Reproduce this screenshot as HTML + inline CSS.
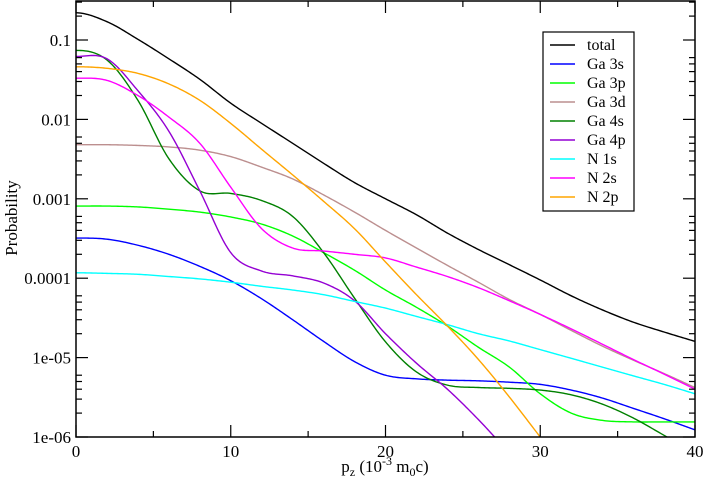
<!DOCTYPE html>
<html><head><meta charset="utf-8"><style>
html,body{margin:0;padding:0;background:#fff;overflow:hidden;width:706px;height:489px}
svg{display:block;font-family:"Liberation Serif",serif}
</style></head><body>
<svg id="chart" width="706" height="489" viewBox="0 0 706 489" xmlns="http://www.w3.org/2000/svg" style="overflow:hidden"></svg>
<script>
const xs=[0,2,4,6,8,10,12,14,16,18,20,22,24,26,28,30,32,34,36,38,40];
const seriesNames=["total","Ga 3s","Ga 3p","Ga 3d","Ga 4s","Ga 4p","N 1s","N 2s","N 2p"];
const seriesColors=["#000000","#0000ff","#00ff00","#bc8f8f","#008000","#9400d3","#00ffff","#ff00ff","#ffa500"];
const total=[0.22,0.17,0.102,0.058,0.032,0.016,0.0089,0.005,0.0028,0.0016,0.001,6.3e-4,3.7e-4,2.3e-4,1.48e-4,9.5e-5,6.0e-5,4.0e-5,2.8e-5,2.1e-5,1.6e-5];
const ga3s=[3.2e-4,3.1e-4,2.6e-4,2.0e-4,1.41e-4,9.3e-5,5.5e-5,3.0e-5,1.6e-5,8.9e-6,6.0e-6,5.4e-6,5.2e-6,5.1e-6,4.9e-6,4.6e-6,3.9e-6,3.1e-6,2.3e-6,1.7e-6,1.23e-6];
const ga3p=[8.1e-4,8.1e-4,7.9e-4,7.4e-4,6.8e-4,5.9e-4,4.8e-4,3.4e-4,2.1e-4,1.26e-4,7.1e-5,4.3e-5,2.5e-5,1.35e-5,7.6e-6,3.5e-6,2.0e-6,1.62e-6,1.55e-6,1.55e-6,1.55e-6];
const ga3d=[4.8e-3,4.8e-3,4.7e-3,4.5e-3,4.1e-3,3.4e-3,2.5e-3,1.78e-3,1.12e-3,6.8e-4,4.0e-4,2.4e-4,1.45e-4,8.9e-5,5.4e-5,3.5e-5,2.2e-5,1.4e-5,9.3e-6,6.3e-6,4.2e-6];
const ga4s=[0.074,0.056,0.0174,0.0032,1.26e-3,1.17e-3,9.5e-4,6.0e-4,2.1e-4,5.6e-5,1.58e-5,6.6e-6,4.5e-6,4.2e-6,4.1e-6,3.9e-6,3.4e-6,2.6e-6,1.74e-6,1.05e-6,6.3e-7];
const ga4p=[0.062,0.058,0.023,7.1e-3,1.26e-3,2.1e-4,1.23e-4,1.07e-4,8.7e-5,5.2e-5,2.0e-5,8.5e-6,4.0e-6,1.66e-6,6.3e-7,2.5e-7,1e-7,4e-8,1.6e-8,6e-9,2.5e-9];
const n1s=[1.17e-4,1.15e-4,1.12e-4,1.05e-4,9.8e-5,8.9e-5,7.9e-5,7.1e-5,6.2e-5,5.1e-5,4.2e-5,3.3e-5,2.6e-5,2.0e-5,1.62e-5,1.26e-5,9.8e-6,7.6e-6,5.9e-6,4.6e-6,3.5e-6];
const n2s=[0.033,0.031,0.020,0.0107,0.0050,0.0014,4.2e-4,2.4e-4,2.2e-4,2.0e-4,1.8e-4,1.38e-4,1.05e-4,7.6e-5,5.2e-5,3.5e-5,2.3e-5,1.48e-5,9.5e-6,6.2e-6,4.0e-6];
const n2p=[0.046,0.044,0.038,0.028,0.0174,0.0089,0.0042,0.002,9.3e-4,4.2e-4,1.6e-4,6.2e-5,2.5e-5,9.5e-6,3.2e-6,1e-6,3.2e-7,1e-7,3e-8,1e-8,3e-9];
const xTicks=[0,10,20,30,40];
const yTicks=[0.1,0.01,0.001,0.0001,1e-5,1e-6];
const yTickLabels=["0.1","0.01","0.001","0.0001","1e-05","1e-06"];

const NS="http://www.w3.org/2000/svg";
const svg=document.getElementById('chart');
const L=76,R=695,T=1,B=437;
function sx(v){return L+(v-0)/(40-0)*(R-L);}
function sy(v){return B-(Math.log10(v)+6)*79.4;}
function mk(tag,attrs,parent){const e=document.createElementNS(NS,tag);for(const k in attrs)e.setAttribute(k,attrs[k]);(parent||svg).appendChild(e);return e;}

const defs=mk('defs',{});
const cp=mk('clipPath',{id:'clip'},defs);
mk('rect',{x:L,y:T,width:R-L,height:B-T},cp);

const plot=mk('g',{'clip-path':'url(#clip)'});


const allSeries=[total,ga3s,ga3p,ga3d,ga4s,ga4p,n1s,n2s,n2p];

// Catmull-Rom (cubic Hermite) spline in log space
function splinePath(xv,vals){
  const y=vals.map(v=>Math.log10(v));
  const n=xv.length,m=[];
  m[0]=(y[1]-y[0])/(xv[1]-xv[0]);
  m[n-1]=(y[n-1]-y[n-2])/(xv[n-1]-xv[n-2]);
  for(let i=1;i<n-1;i++)m[i]=(y[i+1]-y[i-1])/(xv[i+1]-xv[i-1]);
  m[0]=0;
  let path='';
  for(let i=0;i<n-1;i++){
    const h=xv[i+1]-xv[i];
    for(let s=0;s<=20;s++){
      if(i>0&&s===0)continue;
      const t=s/20,t2=t*t,t3=t2*t;
      const v=(2*t3-3*t2+1)*y[i]+(t3-2*t2+t)*h*m[i]+(-2*t3+3*t2)*y[i+1]+(t3-t2)*h*m[i+1];
      const px=sx(xv[i]+t*h),py=B-(v+6)*79.4;
      path+=(path?'L':'M')+px.toFixed(2)+','+py.toFixed(2);
    }
  }
  return path;
}
allSeries.forEach((s,i)=>{
  const p=mk('path',{d:splinePath(xs,s),fill:'none',stroke:seriesColors[i],'stroke-width':1.4,'stroke-linejoin':'round'},plot);
  
  
});

const frame=mk('rect',{x:L,y:T,width:R-L,height:B-T,fill:'none',stroke:'#000','stroke-width':1.5});



const xAxis=mk('g',{});


for(let v=0;v<=40;v+=5){
  const len=(v%10===0)?12:6;
  mk('line',{x1:sx(v),x2:sx(v),y1:B,y2:B-len,stroke:'#000','stroke-width':1.2},xAxis);
  mk('line',{x1:sx(v),x2:sx(v),y1:T,y2:T+len,stroke:'#000','stroke-width':1.2},xAxis);
}
xTicks.forEach(v=>{
  const t=mk('text',{x:sx(v),y:B+20,'text-anchor':'middle','font-size':17},xAxis);
  t.textContent=String(v);
  
  
});
const xt=mk('text',{x:385,y:472,'text-anchor':'middle','font-size':17});


xt.innerHTML='p<tspan font-size="12" dy="4">z</tspan><tspan dy="-4"> (10</tspan><tspan font-size="12" dy="-7">-3</tspan><tspan dy="7"> m</tspan><tspan font-size="12" dy="4">0</tspan><tspan dy="-4">c)</tspan>';

const yAxis=mk('g',{});


yTicks.forEach((v,i)=>{
  const y=sy(v);
  mk('line',{x1:L,x2:L+12,y1:y,y2:y,stroke:'#000','stroke-width':1.2},yAxis);
  mk('line',{x1:R,x2:R-12,y1:y,y2:y,stroke:'#000','stroke-width':1.2},yAxis);
  const t=mk('text',{x:L-5,y:y+6,'text-anchor':'end','font-size':17},yAxis);
  t.textContent=yTickLabels[i];
  
  
  if(i<yTicks.length-1){
    for(let k=2;k<=6;k++){
      const ym=sy(v/10*k);
      mk('line',{x1:L,x2:L+6,y1:ym,y2:ym,stroke:'#000','stroke-width':1.2},yAxis);
      mk('line',{x1:R,x2:R-6,y1:ym,y2:ym,stroke:'#000','stroke-width':1.2},yAxis);
    }
  }
});
for(let k=2;k<=3;k++){const ym=sy(0.1*k);if(ym>T){mk('line',{x1:L,x2:L+6,y1:ym,y2:ym,stroke:'#000','stroke-width':1.2},yAxis);mk('line',{x1:R,x2:R-6,y1:ym,y2:ym,stroke:'#000','stroke-width':1.2},yAxis);}}
const yt=mk('text',{x:0,y:0,'text-anchor':'middle','font-size':17,transform:'translate(17,218) rotate(-90)'});
yt.textContent='Probability';



const leg=mk('g',{});


mk('rect',{x:543,y:32,width:91,height:179,fill:'#fff',stroke:'#000','stroke-width':1.2},leg);
seriesNames.forEach((n,i)=>{
  const y=45+i*19;
  const g=mk('g',{},leg);
  
  
  mk('line',{x1:550,x2:575,y1:y,y2:y,stroke:seriesColors[i],'stroke-width':1.4},g);
  const t=mk('text',{x:587,y:y+5,'font-size':16},g);
  t.textContent=n;
});
</script>
</body></html>
